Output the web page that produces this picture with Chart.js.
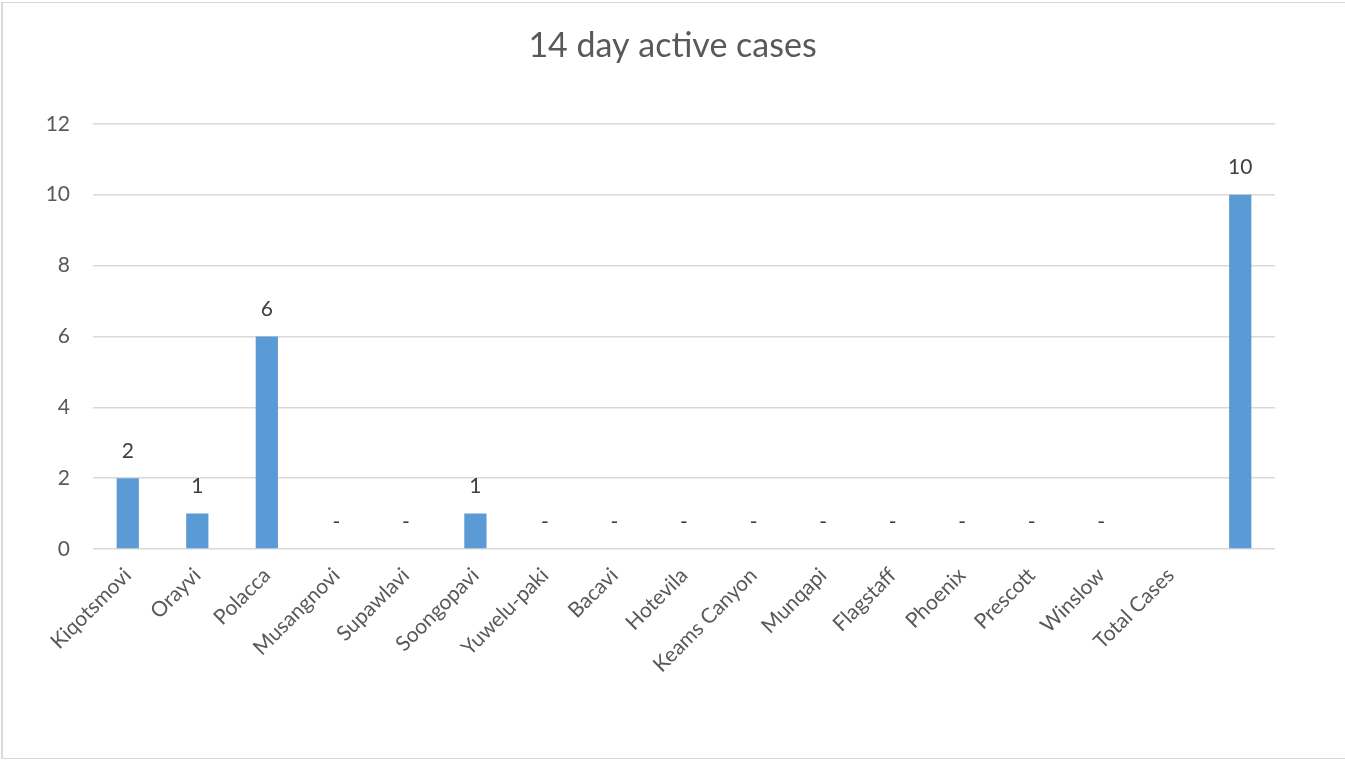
<!DOCTYPE html>
<html>
<head>
<meta charset="utf-8">
<title>14 day active cases</title>
<script src="https://cdn.jsdelivr.net/npm/chart.js@4.4.1/dist/chart.umd.min.js"></script>
<style>
    html, body { margin: 0; padding: 0; background: #fff; overflow: hidden; }
    #frame {
        position: absolute; left: 1px; top: 2px; width: 1360px; height: 757px;
        border: 1px solid #D9D9D9; border-left-width: 2px; box-sizing: border-box;
    }
    #wrap { position: absolute; left: 0; top: 0; width: 1345px; height: 762px; }
</style>
</head>
<body>
<div id="frame"></div>
<div id="wrap"><canvas id="casesChart" width="1345" height="762"></canvas></div>
<script>
// Chart data
const categories = ['Kiqotsmovi', 'Orayvi', 'Polacca', 'Musangnovi', 'Supawlavi', 'Soongopavi',
    'Yuwelu-paki', 'Bacavi', 'Hotevila', 'Keams Canyon', 'Munqapi', 'Flagstaff',
    'Phoenix', 'Prescott', 'Winslow', 'Total Cases', ''];
const activeCases = [2, 1, 6, 0, 0, 1, 0, 0, 0, 0, 0, 0, 0, 0, 0, null, 10];
const yTicks = [0, 2, 4, 6, 8, 10, 12];

const FONT = 'Lato, "Open Sans", sans-serif';

// Draw value labels above bars ("-" for zero, like Excel accounting format)
const valueLabels = {
    id: 'valueLabels',
    afterDatasetsDraw(chart) {
        const ctx = chart.ctx;
        const meta = chart.getDatasetMeta(0);
        ctx.save();
        ctx.font = '21px ' + FONT;
        ctx.fillStyle = '#404040';
        ctx.textAlign = 'center';
        ctx.textBaseline = 'middle';
        meta.data.forEach((bar, i) => {
            const v = activeCases[i];
            if (v === null) return;
            ctx.fillText(v === 0 ? '-' : String(v), bar.x, bar.y - 27);
        });
        ctx.restore();
    }
};

const ctx = document.getElementById('casesChart').getContext('2d');
const casesChart = new Chart(ctx, {
    type: 'bar',
    data: {
        labels: categories,
        datasets: [{
            data: activeCases,
            backgroundColor: '#5B9BD5',
            borderWidth: 0,
            barPercentage: 0.32,
            categoryPercentage: 1
        }]
    },
    options: {
        responsive: false,
        animation: false,
        devicePixelRatio: 1,
        layout: { padding: 0 },
        plugins: {
            legend: { display: false },
            tooltip: { enabled: false },
            title: {
                display: true,
                text: '14 day active cases',
                color: '#595959',
                font: { family: FONT, size: 34, weight: 'normal', lineHeight: 1.2 },
                padding: { top: 26, bottom: 57 }
            }
        },
        scales: {
            x: {
                grid: { display: false },
                border: { display: false },
                ticks: {
                    autoSkip: false,
                    minRotation: 45,
                    maxRotation: 45,
                    padding: 6,
                    color: '#595959',
                    font: { family: FONT, size: 21 }
                },
                afterFit: (scale) => { scale.height = 213; }
            },
            y: {
                min: 0,
                max: 12,
                afterBuildTicks: (scale) => { scale.ticks = yTicks.map(v => ({ value: v })); },
                grid: { color: '#D9D9D9', lineWidth: 1.5, drawTicks: false },
                border: { display: false },
                ticks: {
                    padding: 23,
                    color: '#595959',
                    font: { family: FONT, size: 21 }
                },
                afterFit: (scale) => { scale.width = 93; }
            },
            // empty right-hand space so the plot ends where the reference does
            spacer: {
                type: 'linear',
                position: 'right',
                grid: { display: false },
                border: { display: false },
                ticks: { display: false },
                afterFit: (scale) => { scale.width = 70; }
            }
        }
    },
    plugins: [valueLabels]
});
</script>
</body>
</html>
